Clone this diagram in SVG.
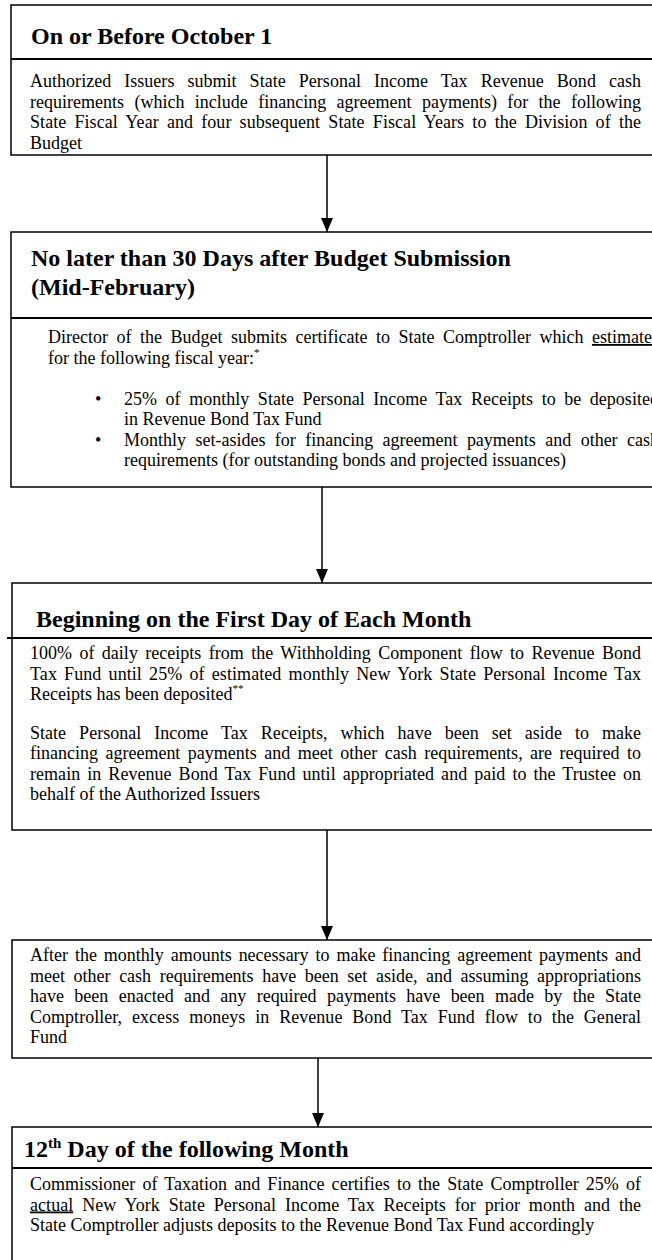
<svg xmlns="http://www.w3.org/2000/svg" width="652" height="1260" viewBox="0 0 652 1260">
<style>
.t{font-family:"Liberation Serif","Times New Roman",serif;font-size:24px;font-weight:bold;fill:#000}
.b{font-family:"Liberation Serif","Times New Roman",serif;font-size:18px;fill:#000}
.box{fill:#fff;stroke:#000;stroke-width:1.5}
.sep{stroke:#000;stroke-width:2}
.conn{stroke:#000;stroke-width:1.5;fill:none;marker-end:url(#ah)}
</style>
<defs>
<marker id="ah" markerUnits="userSpaceOnUse" markerWidth="14" markerHeight="12" refX="14" refY="6" orient="auto" viewBox="0 0 14 12">
<path d="M0,0 L14,6 L0,12 z" fill="#000"/>
</marker>
</defs>
<rect width="652" height="1260" fill="#fff"/>
<g id="connectors">
<line class="conn" x1="327" y1="155" x2="327" y2="232"/>
<line class="conn" x1="322" y1="487" x2="322" y2="583"/>
<line class="conn" x1="327" y1="830" x2="327" y2="940"/>
<line class="conn" x1="318" y1="1058" x2="318" y2="1127"/>
</g>
<g id="node1">
<rect class="box" x="11" y="5" width="660" height="150"/>
<line class="sep" x1="11" y1="59" x2="671" y2="59"/>
<text class="t" x="31" y="44">On or Before October 1</text>
<text class="b" x="30" y="87" word-spacing="8.5" textLength="611" lengthAdjust="spacing">Authorized Issuers submit State Personal Income Tax Revenue Bond cash</text>
<text class="b" x="30" y="107.5" word-spacing="5.8" textLength="611" lengthAdjust="spacing">requirements (which include financing agreement payments) for the following</text>
<text class="b" x="30" y="128" word-spacing="3.6" textLength="611" lengthAdjust="spacing">State Fiscal Year and four subsequent State Fiscal Years to the Division of the</text>
<text class="b" x="30" y="148.5">Budget</text>
</g>
<g id="node2">
<rect class="box" x="11" y="232" width="660" height="255"/>
<line class="sep" x1="11" y1="318" x2="671" y2="318"/>
<text class="t" x="31" y="266">No later than 30 Days after Budget Submission</text>
<text class="t" x="31" y="295">(Mid-February)</text>
<text class="b" x="48" y="343" word-spacing="4" textLength="611" lengthAdjust="spacing">Director of the Budget submits certificate to State Comptroller which <tspan text-decoration="underline">estimates</tspan></text>
<text class="b" x="48" y="363.5">for the following fiscal year:<tspan font-size="11" dy="-8">*</tspan></text>
<text class="b" x="95" y="404.5">•</text>
<text class="b" x="124" y="404.5" word-spacing="4" textLength="535" lengthAdjust="spacing">25% of monthly State Personal Income Tax Receipts to be deposited</text>
<text class="b" x="124" y="425">in Revenue Bond Tax Fund</text>
<text class="b" x="95" y="445.5">•</text>
<text class="b" x="124" y="445.5" word-spacing="4.9" textLength="535" lengthAdjust="spacing">Monthly set-asides for financing agreement payments and other cash</text>
<text class="b" x="124" y="466">requirements (for outstanding bonds and projected issuances)</text>
</g>
<g id="node3">
<rect class="box" x="12" y="583" width="660" height="247"/>
<line class="sep" x1="7" y1="638" x2="672" y2="638"/>
<text class="t" x="36" y="627">Beginning on the First Day of Each Month</text>
<text class="b" x="30" y="659" word-spacing="2.9" textLength="611" lengthAdjust="spacing">100% of daily receipts from the Withholding Component flow to Revenue Bond</text>
<text class="b" x="30" y="679.5" word-spacing="2.6" textLength="611" lengthAdjust="spacing">Tax Fund until 25% of estimated monthly New York State Personal Income Tax</text>
<text class="b" x="30" y="700">Receipts has been deposited<tspan font-size="11" dy="-8">**</tspan></text>
<text class="b" x="30" y="738.5" word-spacing="8.5" textLength="611" lengthAdjust="spacing">State Personal Income Tax Receipts, which have been set aside to make</text>
<text class="b" x="30" y="759" word-spacing="3" textLength="611" lengthAdjust="spacing">financing agreement payments and meet other cash requirements, are required to</text>
<text class="b" x="30" y="779.5" word-spacing="2.5" textLength="611" lengthAdjust="spacing">remain in Revenue Bond Tax Fund until appropriated and paid to the Trustee on</text>
<text class="b" x="30" y="800">behalf of the Authorized Issuers</text>
</g>
<g id="node4">
<rect class="box" x="12" y="940" width="660" height="118"/>
<text class="b" x="30" y="961" word-spacing="2.4" textLength="611" lengthAdjust="spacing">After the monthly amounts necessary to make financing agreement payments and</text>
<text class="b" x="30" y="981.5" word-spacing="4.1" textLength="611" lengthAdjust="spacing">meet other cash requirements have been set aside, and assuming appropriations</text>
<text class="b" x="30" y="1002" word-spacing="5.85" textLength="611" lengthAdjust="spacing">have been enacted and any required payments have been made by the State</text>
<text class="b" x="30" y="1022.5" word-spacing="5.4" textLength="611" lengthAdjust="spacing">Comptroller, excess moneys in Revenue Bond Tax Fund flow to the General</text>
<text class="b" x="30" y="1043">Fund</text>
</g>
<g id="node5">
<rect class="box" x="12" y="1127" width="660" height="200"/>
<line class="sep" x1="12" y1="1168" x2="672" y2="1168"/>
<text class="t" x="24" y="1157">12<tspan font-size="15" dy="-9">th</tspan><tspan dy="9"> Day of the following Month</tspan></text>
<text class="b" x="30" y="1190" word-spacing="2.6" textLength="611" lengthAdjust="spacing">Commissioner of Taxation and Finance certifies to the State Comptroller 25% of</text>
<text class="b" x="30" y="1210.5" word-spacing="4.3" textLength="611" lengthAdjust="spacing"><tspan text-decoration="underline">actual</tspan> New York State Personal Income Tax Receipts for prior month and the</text>
<text class="b" x="30" y="1231">State Comptroller adjusts deposits to the Revenue Bond Tax Fund accordingly</text>
</g>
</svg>
